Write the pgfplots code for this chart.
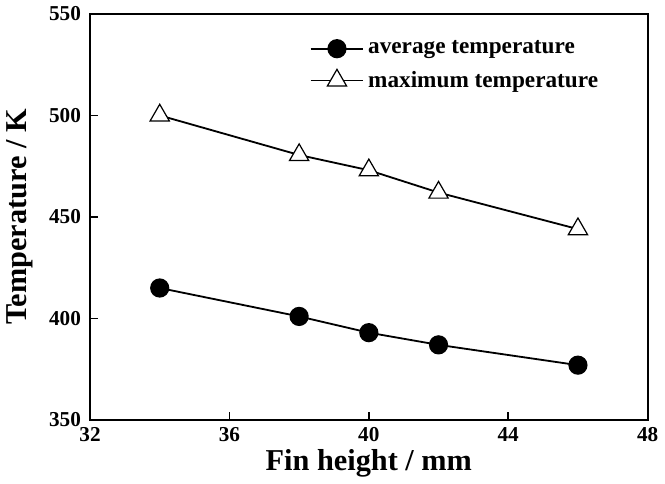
\documentclass[border=0pt]{standalone}
\usepackage{fontspec}
\setmainfont{Liberation Serif}
\usepackage{pgfplots}
\pgfplotsset{compat=1.18}

\begin{document}
\begin{tikzpicture}
\begin{axis}[
    scale only axis,
    width=276pt, height=201pt,
    xmin=32, xmax=48, ymin=350, ymax=550,
    xtick={32,36,40,44,48},
    ytick={350,400,450,500,550},
    tick align=inside,
    xtick pos=bottom, ytick pos=left,
    major tick length=4pt,
    axis line style={line width=0.9pt},
    tick style={line width=0.8pt, black},
    tick label style={font=\bfseries\fontsize{10.5}{12}\selectfont},
    yticklabel style={xshift=-1pt},
    /pgf/number format/assume math mode=true,
    xlabel={\bfseries Fin height / mm},
    ylabel={\bfseries Temperature / K},
    label style={font=\bfseries\fontsize{15}{17}\selectfont},
    xlabel style={yshift=3pt},
    ylabel style={yshift=1pt},
    legend style={draw=none, fill=none, at={(0.93,0.955)}, anchor=north east,
        font=\bfseries\fontsize{11.5}{13}\selectfont, row sep=3pt},
    legend cell align=left,
    legend image code/.code={
        \draw[#1, mark repeat=2, mark phase=2] plot coordinates {(0pt,0pt) (13pt,0pt) (26pt,0pt)};
    },
]
\addplot[black, line width=0.9pt, mark=*, mark size=4.3pt, mark options={fill=black}]
coordinates {
    (34, 415)
    (38, 401)
    (40, 393)
    (42, 387)
    (46, 377)
};
\addplot[black, line width=0.9pt, mark=triangle*, mark size=5.5pt, mark options={fill=white, line width=0.6pt}]
coordinates {
    (34, 500)
    (38, 480.5)
    (40, 473)
    (42, 462)
    (46, 444)
};
\legend{average temperature, maximum temperature}
\end{axis}
\end{tikzpicture}
\end{document}
